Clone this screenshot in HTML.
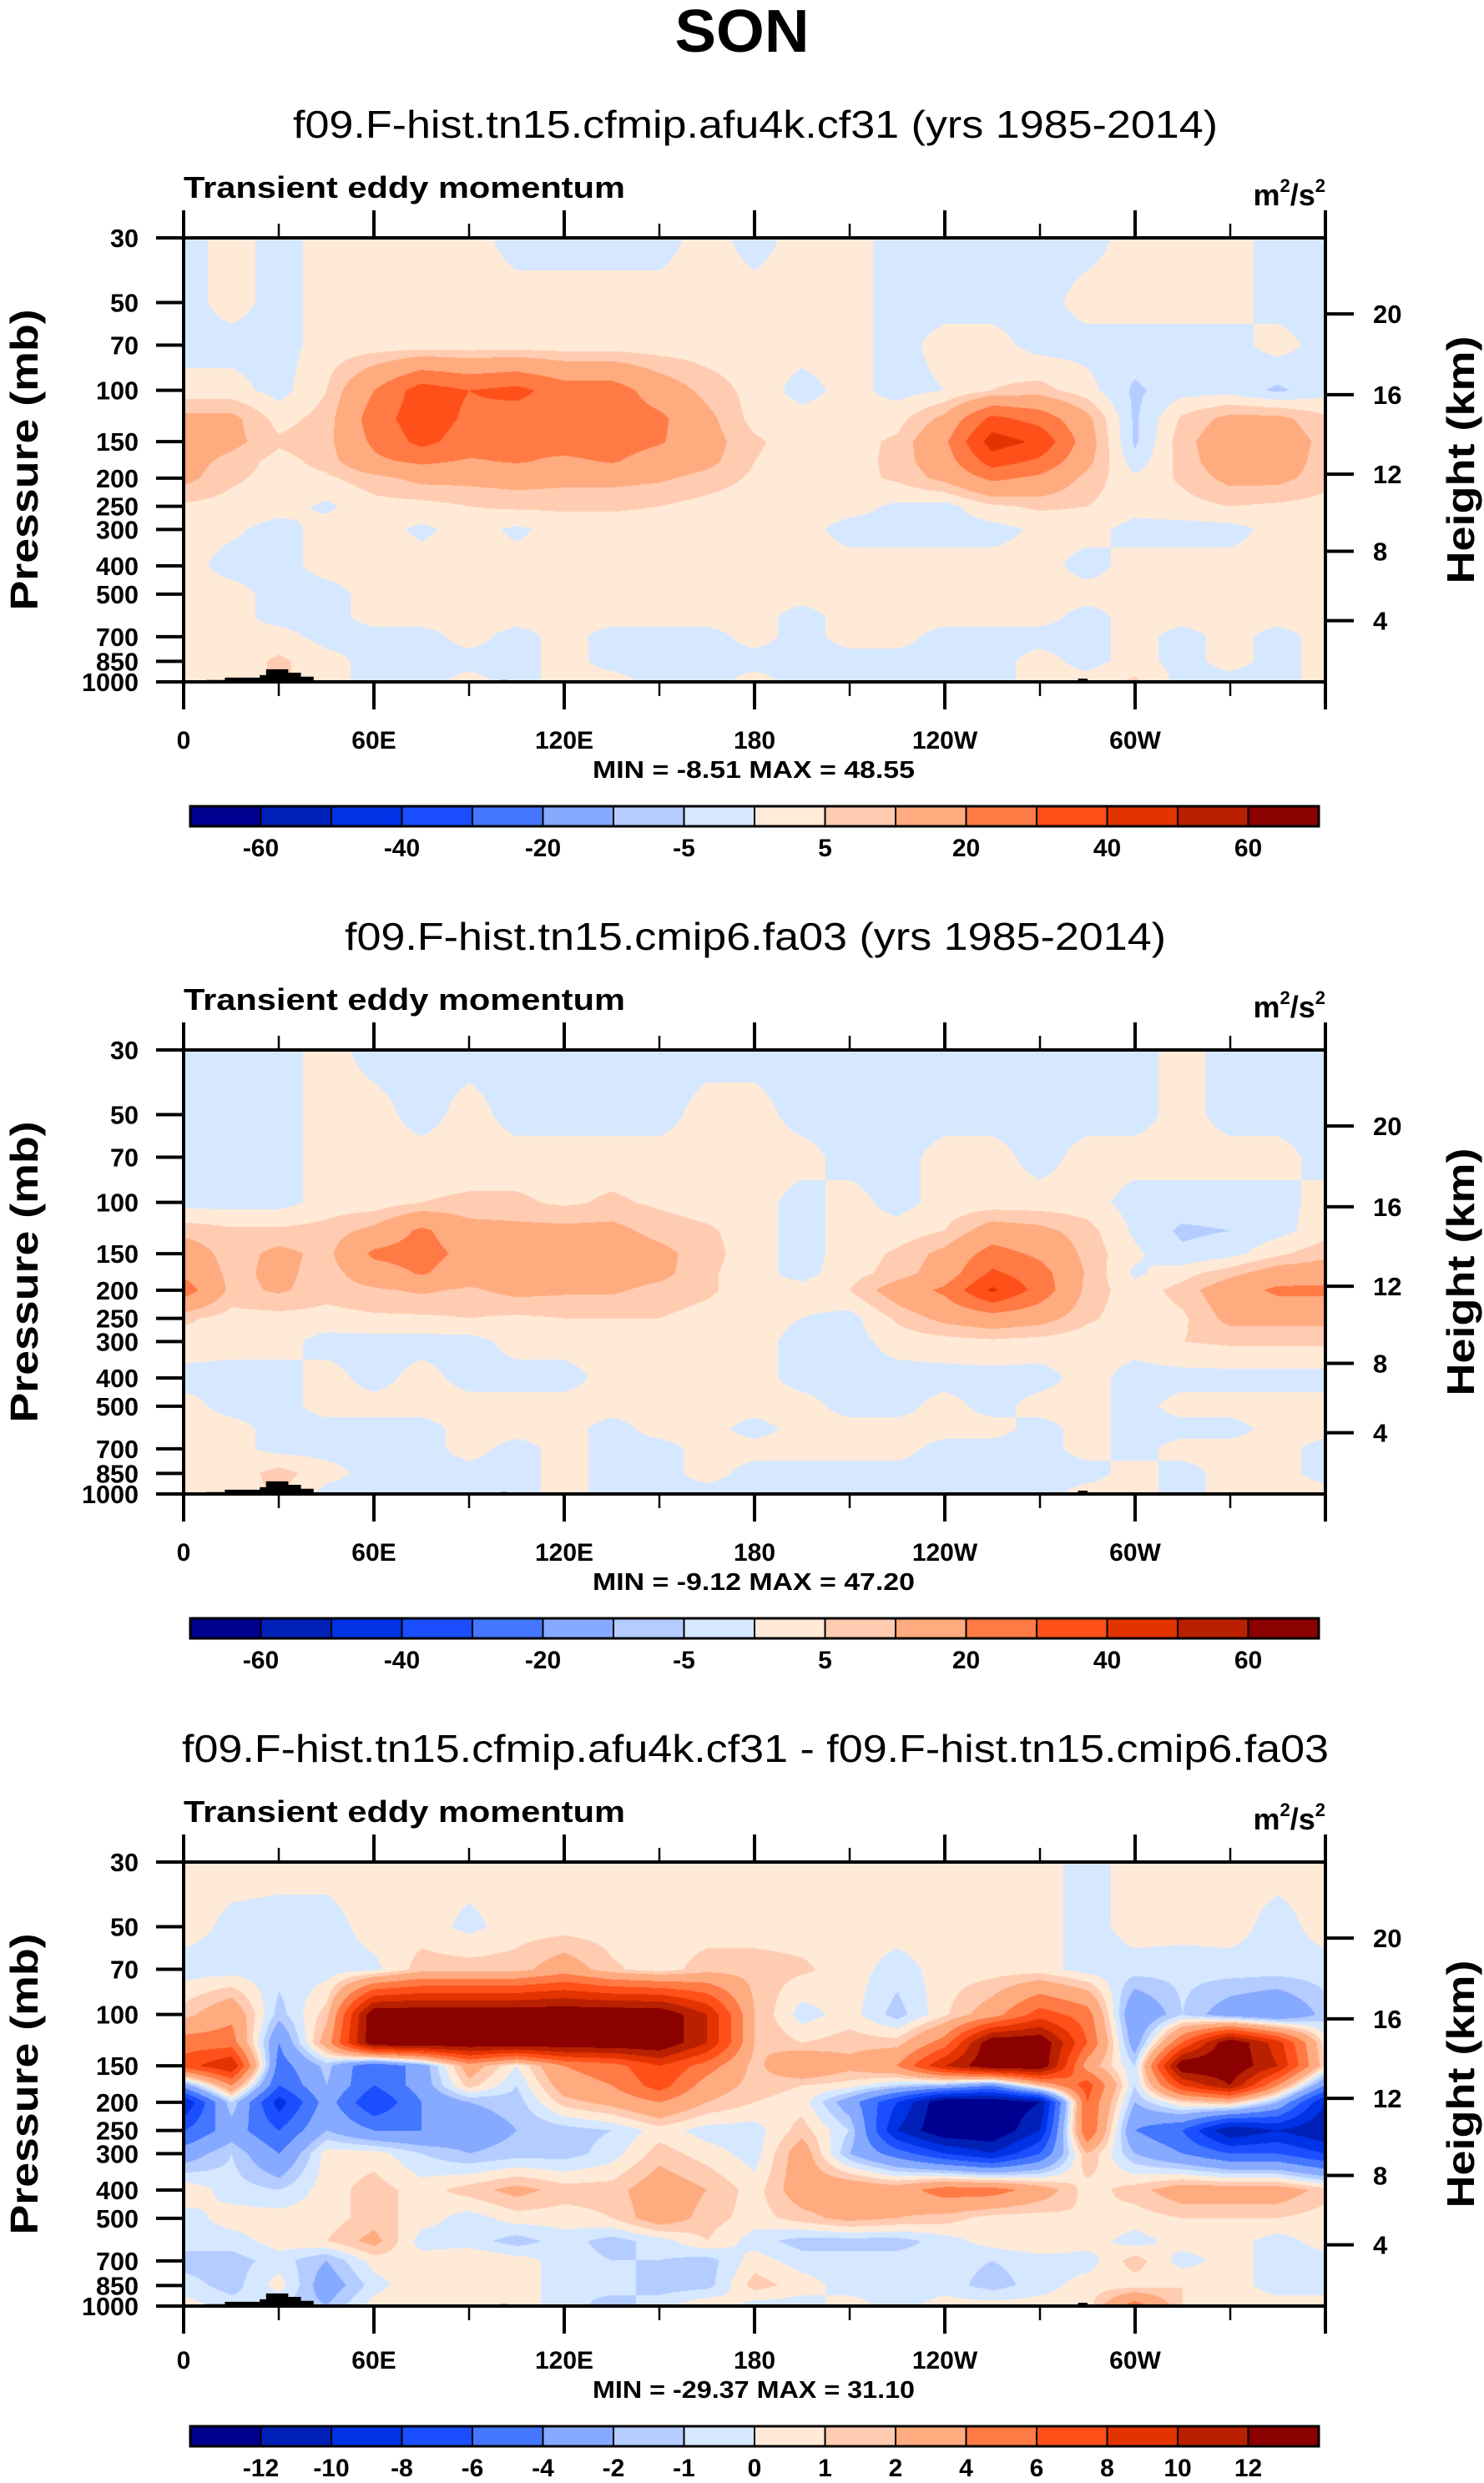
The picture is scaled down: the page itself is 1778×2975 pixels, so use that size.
<!DOCTYPE html>
<html><head><meta charset="utf-8"><title>SON Transient eddy momentum</title>
<style>
html,body{margin:0;padding:0;background:#fff;}
#wrap{position:relative;width:1778px;height:2975px;overflow:hidden;background:#fff;}
canvas{position:absolute;}
svg{position:absolute;left:0;top:0;}
text{font-family:"Liberation Sans",Arial,sans-serif;}
</style></head>
<body>
<div id="wrap"></div>
<script>
// ---------- data ----------
const lons = [0,15,30,45,60,75,90,105,120,135,150,165,180,195,210,225,240,255,270,285,300,315,330,345,360];
const plevs = [30,50,70,100,125,150,175,200,250,300,400,500,600,700,850,1000];
const field1 = [
[-2,2,-2,2,2,2,2,-2,-2,-2,-2,2,-2,2,2,-2,-2,-2,-2,-2,2,2,2,-2,-2],
[-2,2,-2,2,2,2,2,2,2,2,2,2,2,2,2,-2,-2,-2,-2,2,2,2,2,-2,-2],
[-2,-2,-2,2,2,2,2,2,2,2,2,2,2,2,2,-2,2,2,-2,-2,-2,-2,-2,2,-2],
[2,2,-2,5,20,35,30,33,25,25,15,8,3,-2,2,-2,0,5,7,2,-6,-2,-2,-6,-2],
[12,12,3,7,25,36,28,25,25,25,22,12,3,2,2,3,12,33,26,12,-6,6,12,12,6],
[15,12,6,8,22,33,25,22,25,25,21,13,6,2,3,6,18,45,38,14,-6,8,15,15,8],
[13,8,3,7,18,22,19,21,18,21,15,12,5,2,2,7,15,35,28,12,-3,7,15,15,7],
[12,6,3,4,8,12,12,13,12,12,11,8,4,2,3,6,12,22,18,8,1,6,12,12,7],
[4,3,2,-1,3,3,5,6,6,6,5,3,2,2,2,-1,-2,4,6,5,2,3,5,4,3],
[2,1,-2,2,2,-1,2,-1,2,2,2,2,2,2,-2,-2,-2,-2,1,2,-2,-2,-2,2,2],
[2,-2,-2,2,2,2,2,2,2,2,2,2,2,2,2,2,2,2,2,-2,2,2,2,2,2],
[2,2,-2,-2,2,2,2,2,2,2,2,2,2,2,2,2,2,2,2,2,2,2,2,2,2],
[2,2,-2,-2,2,2,2,2,2,2,2,2,2,-2,2,2,2,2,2,-2,2,2,2,2,2],
[2,2,2,-2,-2,-2,2,-2,2,-2,-2,-2,2,-2,2,2,-2,-2,-2,-2,2,-2,2,-2,2],
[2,2,6,2,-2,-2,-2,-2,2,-2,-2,-2,-2,-2,-2,-2,-2,-2,2,-2,2,-2,2,-2,2],
[2,2,6,2,-2,-2,2,-2,2,2,-2,-2,2,-2,-2,-2,-2,-2,2,2,6,-2,-2,-2,2]
];
const field2 = [
[-2,-2,-2,2,-2,-2,-2,-2,-2,-2,-2,-2,-2,-2,-2,-2,-2,-2,-2,-2,-2,2,-2,-2,-2],
[-2,-2,-2,2,2,-2,2,-2,-2,-2,-2,2,2,-2,-2,-2,-2,-2,-2,-2,-2,2,-2,-2,-2],
[-2,-2,-2,2,2,2,2,2,2,2,2,2,2,2,-2,-2,2,2,-2,2,2,2,2,2,-2],
[-2,-2,-2,2,2,5,6,6,4,6,4,2,2,-2,2,-2,2,2,2,2,-2,-2,-2,-2,2],
[8,6,6,7,12,22,13,12,12,12,8,6,2,-2,2,2,5,14,12,7,-1,-6,-5,-2,3],
[15,7,12,8,22,24,17,15,15,14,12,7,2,-2,2,6,12,24,18,8,1,-4,-2,4,8],
[18,8,12,7,15,21,14,13,14,14,12,6,2,-2,3,7,14,32,24,9,-1,3,8,14,15],
[25,8,11,7,9,11,9,12,11,11,8,6,2,2,5,14,22,42,26,8,2,7,15,22,22],
[6,3,3,3,4,4,5,4,5,5,5,3,2,0,-2,6,12,15,13,6,2,4,12,12,12],
[3,2,2,-2,-2,-2,-2,2,2,2,2,2,2,-2,-2,2,3,4,3,2,2,5,6,6,6],
[-2,-2,-2,2,-2,2,-2,-2,-2,2,2,2,2,-2,-2,-2,-2,-2,-2,2,-2,-2,-2,-2,-2],
[2,-2,-2,2,2,2,2,2,2,2,2,2,2,2,-2,-2,2,-2,2,2,-2,2,2,2,2],
[2,2,-2,-2,-2,-2,2,2,2,-2,2,2,-2,2,2,2,2,2,-2,2,-2,-2,-2,2,2],
[2,2,-2,-2,-2,-2,2,-2,2,-2,-2,2,2,2,2,2,-2,-2,-2,2,-2,2,2,2,-2],
[2,2,7,2,-2,-2,-2,-2,2,-2,-2,2,-2,-2,-2,-2,-2,-2,-2,-2,2,-2,2,2,-2],
[2,2,6,-2,-2,-2,-2,-2,2,-2,-2,-2,-2,-2,-2,-2,-2,-2,-2,2,2,-2,2,2,2]
];
const field3 = [
[0.5,0.5,0.5,0.5,0.5,0.5,0.5,0.5,0.5,0.5,0.5,0.5,0.5,0.5,0.5,0.5,0.5,0.5,0.5,-0.5,0.5,0.5,0.5,0.5,0.5],
[0.5,-0.3,-0.5,-0.5,0.5,0.5,-0.3,0.5,0.5,0.5,0.5,0.5,0.5,0.5,0.5,0.5,0.5,0.5,0.5,-0.5,0.5,0.5,0.5,-0.5,0.5],
[-0.5,-0.5,-0.5,-0.5,-0.3,1.5,1.5,1.5,3,1.2,0.5,1.5,1.5,1.2,0.5,-0.5,0.5,0.5,0.5,-0.5,-0.5,-0.7,-0.5,-0.5,-0.5],
[1.5,3.5,-1.5,1.5,14,14,14,14,14,14,14,10,2,-0.5,0.5,-1.5,0.8,3,7,5,-4,-1,-3,-4,-1.5],
[5,5,-4,3,14,14,14,14,14,14,14,10,2,1,1.5,1.5,5,14,14,6,-3,6,14,9,0.5],
[7,10,-5,-1.5,-6,-3,3,0,4,5,8,5,1.5,4,2.5,4,10,14,14,3,-1,14,14,10,1],
[-3,4,-6,-2,-6,-3,1.5,-1,3,4,7,3,1.5,1,0.5,-1,-2,-4,2,7,-1,8,12,4,-4],
[-10,-1,-9,-3,-8,-4,-2,-1.5,1.5,2.5,4,2,1,0.5,-3,-8,-14,-14,-12,6,-2,1,2,-2,-10],
[-6,-3,-6,-2,-4,-4,-3,-2,-1.5,-1,0.5,-0.5,-0.5,1.5,-1,-10,-14,-14,-10,6,-4,-6,-12,-10,-12],
[-3,-1,-4,0.5,0.5,-1,-2,-1.5,-1.5,-0.5,1.5,0.5,-0.5,3,-2,-5,-8,-10,-6,2,-2,-4,-6,-6,-8],
[0.8,-0.5,-1,0.5,1.5,0.5,1.5,2.5,1.5,1.5,3,2,0.5,3,3.5,3,5,5,3,0.5,1.5,3,3,3,1.5],
[-0.5,0.5,0.5,0.5,1.5,0.5,-0.5,0.5,0.5,1,3,1.5,0.5,1.5,2.5,2,1.5,0.5,0.5,1,0.5,1,1,1,0.5],
[-0.5,-0.5,0.5,1,2.5,-0.5,-0.5,-1.5,-0.5,-1.5,-0.5,1,-0.5,-1.5,-1.5,-1.5,-0.5,0.5,1,0.5,-0.5,0.5,0.5,-0.5,0.5],
[-1.5,-1.5,-0.5,-2,0.5,0.5,1,0.5,-0.5,-1,-1,-1.5,0.5,-0.5,-0.5,-0.5,-0.5,-1,-0.5,-0.5,1.5,-0.5,0.5,-0.5,-0.5],
[-0.5,-1.5,0.5,-3,-0.5,1,0.5,1,-1,-0.5,-1.5,-1.5,1.5,0.5,-0.5,-0.5,-0.5,-1.5,-0.5,0.5,0.5,1,0.5,-0.5,-0.5],
[0.5,-0.5,-1,-2,0.5,1,1,0.5,-0.5,-1.5,-0.5,1,-0.5,-0.5,0.5,-0.5,0.5,0.5,0.5,0.5,5,1,0.5,0.5,0.5]
];
const levels12 = [-60,-50,-40,-30,-20,-10,-5,0,5,10,20,30,40,50,60];
const levels3 = [-12,-10,-8,-6,-4,-2,-1,0,1,2,4,6,8,10,12];
const cbLabels12 = ["","-60","","-40","","-20","","-5","","5","","20","","40","","60",""];
const cbLabels3 = ["","-12","-10","-8","-6","-4","-2","-1","0","1","2","4","6","8","10","12",""];
const colors = ["#000090","#0020b8","#0032e6","#1a4eff","#4476ff","#86aaff","#b4ccff","#d6e8ff","#ffead8","#ffccb2","#ffab80","#ff7a44","#ff5019","#e33300","#b82000","#8b0000"];
const xTickLons = [0,60,120,180,240,300];
const xTickLabels = ["0","60E","120E","180","120W","60W"];
const pTicks = [30,50,70,100,150,200,250,300,400,500,700,850,1000];
const zTicks = [20,16,12,8,4];
const zTickP = [54.7,103.5,193.9,356.5,616.6];
const topoLon = [7,7,13,13,24,24,26,26,33,33,37,37,41,41,100,100,102,102,282,282,285,285,313,313];
const topoP = [1000,985,985,967,967,948,948,905,905,930,930,960,960,1000,1000,985,985,1000,1000,975,975,988,988,1000];
const titles = ["f09.F-hist.tn15.cfmip.afu4k.cf31 (yrs 1985-2014)","f09.F-hist.tn15.cmip6.fa03 (yrs 1985-2014)","f09.F-hist.tn15.cfmip.afu4k.cf31 - f09.F-hist.tn15.cmip6.fa03"];
const titleLen = [1108,984,1374];
const minmax = ["MIN =  -8.51  MAX =  48.55","MIN =  -9.12  MAX =  47.20","MIN = -29.37  MAX =  31.10"];

// ---------- layout ----------
const OFF=[0,973,1946], LOW=[0,0,-5];
const L=220,R=1588,T=285,B=817,W=R-L,H=B-T;
const NS="http://www.w3.org/2000/svg";
const wrap=document.getElementById('wrap');
const svg=document.createElementNS(NS,'svg');
svg.setAttribute('width','1778');svg.setAttribute('height','2975');


function mk(tag,attrs,parent){const e=document.createElementNS(NS,tag);for(const k in attrs)e.setAttribute(k,attrs[k]);(parent||svg).appendChild(e);return e;}
function xOf(lon){return L+W*lon/360;}
function yOf(p,off){return T+off+H*Math.log(p/30)/Math.log(1000/30);}

const son=mk('text',{x:889,y:62,'text-anchor':'middle','font-size':72,'font-weight':'bold',textLength:161,lengthAdjust:'spacingAndGlyphs'});
son.textContent='SON';



function colorIndex(v,lv){let i=0;while(i<lv.length&&v>=lv[i])i++;return i;}
function hex(c){return [parseInt(c.slice(1,3),16),parseInt(c.slice(3,5),16),parseInt(c.slice(5,7),16)];}
const rgb=colors.map(hex);
const lp=plevs.map(p=>Math.log(p));

function drawField(k,field,lv){
  const off=OFF[k];
  const cv=document.createElement('canvas');
  cv.width=W;cv.height=H;cv.style.left=L+'px';cv.style.top=(T+off)+'px';
  
  
  wrap.appendChild(cv);
  const ctx=cv.getContext('2d');const img=ctx.createImageData(W,H);const d=img.data;
  for(let py=0;py<H;py++){
    const lpp=Math.log(30)+(py/(H-1))*Math.log(1000/30);
    let r=0;while(r<plevs.length-2&&lpp>lp[r+1])r++;
    const fy=Math.min(1,Math.max(0,(lpp-lp[r])/(lp[r+1]-lp[r])));
    const row0=field[r],row1=field[r+1];
    for(let px=0;px<W;px++){
      const lon=px/(W-1)*360;
      let c=0;while(c<lons.length-2&&lon>lons[c+1])c++;
      const fx=(lon-lons[c])/(lons[c+1]-lons[c]);
      const v=(row0[c]*(1-fx)+row0[c+1]*fx)*(1-fy)+(row1[c]*(1-fx)+row1[c+1]*fx)*fy;
      const col=rgb[colorIndex(v,lv)];const o=(py*W+px)*4;
      d[o]=col[0];d[o+1]=col[1];d[o+2]=col[2];d[o+3]=255;
    }
  }
  ctx.putImageData(img,0,0);
}

function panel(k,field,lv,cbl){
  const off=OFF[k], lo=LOW[k];
  drawField(k,field,lv);
  const g=mk('g',{});
  
  
  const st=mk('text',{x:905,y:165+off,'text-anchor':'middle','font-size':46,textLength:titleLen[k],lengthAdjust:'spacingAndGlyphs'},g);
  st.textContent=titles[k];
  
  
  const lt=mk('text',{x:220,y:237+off,'font-size':36,'font-weight':'bold',textLength:529,lengthAdjust:'spacingAndGlyphs'},g);
  lt.textContent='Transient eddy momentum';
  
  
  const un=mk('text',{x:1588,y:246+off,'text-anchor':'end','font-size':36,'font-weight':'bold'},g);
  un.innerHTML='m<tspan font-size="22" dy="-16">2</tspan><tspan dy="16">/s</tspan><tspan font-size="22" dy="-16">2</tspan>';
  
  
  // topography
  let pts=topoLon.map((ln,i)=>xOf(ln)+','+yOf(topoP[i],off)).join(' ');
  const topo=mk('polygon',{points:pts,fill:'#000'},g);
  
  
  // frame
  const fr=mk('rect',{x:L,y:T+off,width:W,height:H,fill:'none',stroke:'#000','stroke-width':4},g);
  
  
  // x ticks
  for(let lon=0;lon<=360;lon+=30){
    const major=lon%60===0, len=major?33:17, x=xOf(lon);
    const t1=mk('line',{x1:x,x2:x,y1:B+off,y2:B+off+len,stroke:'#000','stroke-width':major?4:2.5},g);
    
    
    const t2=mk('line',{x1:x,x2:x,y1:T+off,y2:T+off-len,stroke:'#000','stroke-width':major?4:2.5},g);
    
    
  }
  xTickLons.forEach((lon,i)=>{
    const t=mk('text',{x:xOf(lon),y:897+off+lo,'text-anchor':'middle','font-size':30,'font-weight':'bold'},g);
    t.textContent=xTickLabels[i];
    
    
  });
  const mm=mk('text',{x:903,y:932+off+lo,'text-anchor':'middle','font-size':29,'font-weight':'bold','xml:space':'preserve',textLength:386,lengthAdjust:'spacingAndGlyphs'},g);
  mm.textContent=minmax[k];
  
  
  // y ticks
  pTicks.forEach(p=>{
    const y=yOf(p,off);
    const t=mk('line',{x1:187,x2:L,y1:y,y2:y,stroke:'#000','stroke-width':4},g);
    
    
    const tl=mk('text',{x:166,y:y+11,'text-anchor':'end','font-size':31,'font-weight':'bold',textLength:String(p).length*17,lengthAdjust:'spacingAndGlyphs'},g);
    tl.textContent=String(p);
    
    
  });
  zTicks.forEach((z,i)=>{
    const y=yOf(zTickP[i],off);
    const t=mk('line',{x1:R,x2:R+34,y1:y,y2:y,stroke:'#000','stroke-width':4},g);
    
    
    const tl=mk('text',{x:1645,y:y+11,'font-size':31,'font-weight':'bold'},g);
    tl.textContent=String(z);
    
    
  });
  const yl=mk('text',{transform:'translate(45,'+(551+off)+') rotate(-90)','text-anchor':'middle','font-size':46,'font-weight':'bold',textLength:361,lengthAdjust:'spacingAndGlyphs'},g);
  yl.textContent='Pressure (mb)';
  
  
  const yr=mk('text',{transform:'translate(1766,'+(551+off)+') rotate(-90)','text-anchor':'middle','font-size':46,'font-weight':'bold',textLength:297,lengthAdjust:'spacingAndGlyphs'},g);
  yr.textContent='Height (km)';
  
  
  // colorbar
  const cx0=228,cx1=1580,cy=966+off+lo,ch=24,bw=(cx1-cx0)/16;
  for(let i=0;i<16;i++){
    const r=mk('rect',{x:cx0+i*bw,y:cy,width:bw,height:ch,fill:colors[i],stroke:'#000','stroke-width':2},g);
    
    
  }
  const cbf=mk('rect',{x:cx0,y:cy,width:cx1-cx0,height:ch,fill:'none',stroke:'#000','stroke-width':3},g);
  
  
  cbl.forEach((s,i)=>{
    if(!s)return;
    const t=mk('text',{x:cx0+i*bw,y:1026+off+lo,'text-anchor':'middle','font-size':30,'font-weight':'bold'},g);
    t.textContent=s;
    
    
  });
}
panel(0,field1,levels12,cbLabels12);
panel(1,field2,levels12,cbLabels12);
panel(2,field3,levels3,cbLabels3);
wrap.appendChild(svg);
</script>
</body></html>
